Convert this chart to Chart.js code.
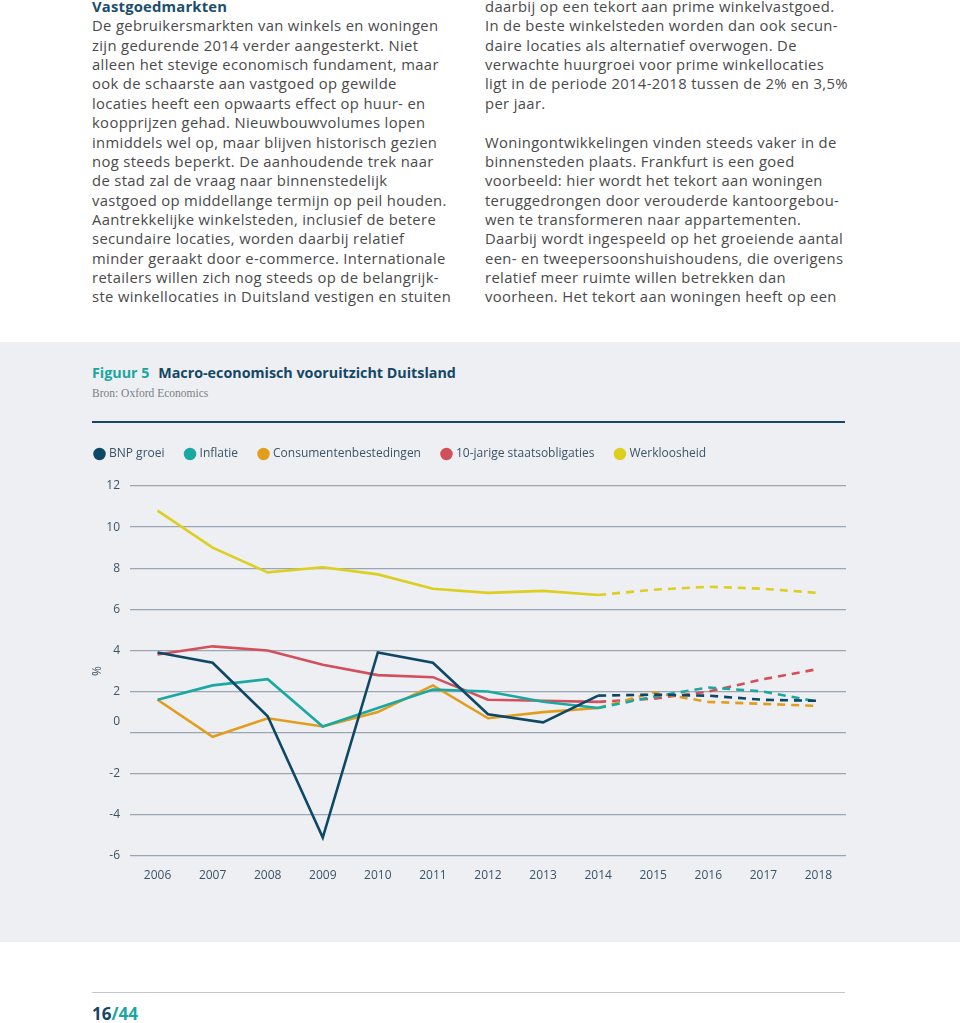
<!DOCTYPE html>
<html lang="nl">
<head>
    <meta charset="UTF-8">
    <title>Macro-economisch vooruitzicht Duitsland</title>
    <style>
        body {
            margin: 0;
            width: 960px;
            height: 1023px;
            position: relative;
            overflow: hidden;
            background: #fff;
            font-family: "Open Sans", Arial, sans-serif;
            color: #4a4a4a;
        }

        .col {
            position: absolute;
            top: -3px;
            font-size: 14.8px;
            letter-spacing: 0.35px;
            line-height: 19.36px;
            white-space: nowrap;
        }

        .col h3 {
            margin: 0;
            font-size: 14.8px;
            font-weight: 700;
            letter-spacing: 0.2px;
            color: #1b4e6d;
        }

        #panel {
            position: absolute;
            left: 0;
            top: 342px;
            width: 960px;
            height: 600px;
            background: #eeeff3;
        }

        #title {
            position: absolute;
            left: 92px;
            top: 363px;
            font-size: 14.3px;
            font-weight: 700;
            color: #154766;
        }

        #title span {
            color: #1aa6a0;
            margin-right: 5px;
        }

        #source {
            position: absolute;
            left: 92px;
            top: 387px;
            font-family: "Liberation Serif", "DejaVu Serif", serif;
            font-size: 11.5px;
            color: #7a7f86;
        }

        #rule {
            position: absolute;
            left: 92px;
            top: 421px;
            width: 753px;
            height: 2px;
            background: #154766;
        }

        #chart-box {
            position: absolute;
            left: 74px;
            top: 426px;
            width: 772px;
            height: 457px;
        }

        #footer-line {
            position: absolute;
            left: 92px;
            top: 992px;
            width: 753px;
            height: 1px;
            background: #c4c6ca;
        }

        #page {
            position: absolute;
            left: 92px;
            top: 1002px;
            font-size: 17px;
            font-weight: 700;
            color: #154766;
        }

        #page span {
            color: #1aa6a0;
        }
    </style>
</head>
<body>
    <div class="col" style="left: 92px;">
        <h3>Vastgoedmarkten</h3>
        De gebruikersmarkten van winkels en woningen<br>
        zijn gedurende 2014 verder aangesterkt. Niet<br>
        alleen het stevige economisch fundament, maar<br>
        ook de schaarste aan vastgoed op gewilde<br>
        locaties heeft een opwaarts effect op huur- en<br>
        koopprijzen gehad. Nieuwbouwvolumes lopen<br>
        inmiddels wel op, maar blijven historisch gezien<br>
        nog steeds beperkt. De aanhoudende trek naar<br>
        de stad zal de vraag naar binnenstedelijk<br>
        vastgoed op middellange termijn op peil houden.<br>
        Aantrekkelijke winkelsteden, inclusief de betere<br>
        secundaire locaties, worden daarbij relatief<br>
        minder geraakt door e-commerce. Internationale<br>
        retailers willen zich nog steeds op de belangrijk-<br>
        ste winkellocaties in Duitsland vestigen en stuiten
    </div>

    <div class="col" style="left: 485px;">
        daarbij op een tekort aan prime winkelvastgoed.<br>
        In de beste winkelsteden worden dan ook secun-<br>
        daire locaties als alternatief overwogen. De<br>
        verwachte huurgroei voor prime winkellocaties<br>
        ligt in de periode 2014-2018 tussen de 2% en 3,5%<br>
        per jaar.<br>
        <br>
        Woningontwikkelingen vinden steeds vaker in de<br>
        binnensteden plaats. Frankfurt is een goed<br>
        voorbeeld: hier wordt het tekort aan woningen<br>
        teruggedrongen door verouderde kantoorgebou-<br>
        wen te transformeren naar appartementen.<br>
        Daarbij wordt ingespeeld op het groeiende aantal<br>
        een- en tweepersoonshuishoudens, die overigens<br>
        relatief meer ruimte willen betrekken dan<br>
        voorheen. Het tekort aan woningen heeft op een
    </div>

    <div id="panel"></div>
    <div id="title"><span>Figuur 5</span> Macro-economisch vooruitzicht Duitsland</div>
    <div id="source">Bron: Oxford Economics</div>
    <div id="rule"></div>

    <div id="chart-box">
        <canvas id="macro-chart"></canvas>
    </div>

    <div id="footer-line"></div>
    <div id="page">16<span>/44</span></div>

    <script src="https://cdn.jsdelivr.net/npm/chart.js"></script>
    <script>
        const years = ['2006', '2007', '2008', '2009', '2010', '2011', '2012',
                       '2013', '2014', '2015', '2016', '2017', '2018'];

        // 2015-2018 are forecasts (drawn dashed)
        const bnpGroei = [3.9, 3.4, 0.8, -5.1, 3.9, 3.4, 0.9, 0.5, 1.8, 1.85, 1.8, 1.6, 1.55];
        const inflatie = [1.6, 2.3, 2.6, 0.3, 1.2, 2.1, 2.0, 1.5, 1.2, 1.75, 2.2, 2.0, 1.5];
        const consumentenbestedingen = [1.6, -0.2, 0.7, 0.3, 1.0, 2.3, 0.7, 1.0, 1.2, 1.95, 1.5, 1.4, 1.3];
        const staatsobligaties = [3.8, 4.2, 4.0, 3.3, 2.8, 2.7, 1.6, 1.55, 1.5, 1.65, 2.0, 2.6, 3.1];
        const werkloosheid = [10.8, 9.0, 7.8, 8.05, 7.7, 7.0, 6.8, 6.9, 6.7, 6.95, 7.1, 7.0, 6.8];

        const yTicks = [12, 10, 8, 6, 4, 2, 0, -2, -4, -6];
        const forecastFrom = years.indexOf('2014');

        const textColor = '#3b5366';
        const tickFont = { family: 'Open Sans', size: 12 };

        function series(label, data, color) {
            return {
                label: label,
                data: data,
                borderColor: color,
                backgroundColor: color,
                borderWidth: 2.6,
                pointRadius: 0,
                tension: 0,
                segment: {
                    borderDash: ctx => ctx.p0DataIndex >= forecastFrom ? [8, 6] : undefined
                }
            };
        }

        // fixed legend height so the plot starts where it does in the original
        const legendHeight = {
            id: 'legendHeight',
            beforeLayout(chart) {
                const legend = chart.legend;
                if (!legend || legend.patched) return;
                const fit = legend.fit;
                legend.fit = function () {
                    fit.call(this);
                    this.height = 60;
                };
                legend.patched = true;
            }
        };

        // the "0" label sits a bit above its grid line in the original
        const zeroLabel = {
            id: 'zeroLabel',
            afterDraw(chart) {
                const y = chart.scales.y;
                const ctx = chart.ctx;
                ctx.save();
                ctx.font = '12px "Open Sans"';
                ctx.fillStyle = textColor;
                ctx.textAlign = 'right';
                ctx.textBaseline = 'middle';
                ctx.fillText('0', y.right - 10, y.getPixelForValue(0) - 11);
                ctx.restore();
            }
        };

        const chart = new Chart(document.getElementById('macro-chart'), {
            type: 'line',
            data: {
                labels: years,
                datasets: [
                    series('BNP groei', bnpGroei, '#0e4866'),
                    series('Inflatie', inflatie, '#1aa8a2'),
                    series('Consumentenbestedingen', consumentenbestedingen, '#e29d1d'),
                    series('10-jarige staatsobligaties', staatsobligaties, '#d1505c'),
                    series('Werkloosheid', werkloosheid, '#dccf1f')
                ]
            },
            options: {
                responsive: true,
                maintainAspectRatio: false,
                animation: false,
                layout: { padding: 0 },
                plugins: {
                    legend: {
                        position: 'top',
                        align: 'start',
                        labels: {
                            usePointStyle: true,
                            pointStyle: 'circle',
                            boxWidth: 7,
                            boxHeight: 7,
                            padding: 22,
                            color: textColor,
                            font: { family: 'Open Sans', size: 12 }
                        }
                    },
                    tooltip: { enabled: false }
                },
                scales: {
                    x: {
                        offset: true,
                        afterFit: scale => { scale.height = 27; },
                        grid: { display: false, drawTicks: false },
                        border: { display: false },
                        ticks: { color: textColor, font: tickFont, padding: 12, maxRotation: 0 }
                    },
                    y: {
                        min: -6,
                        max: 12,
                        afterFit: scale => { scale.width = 56; },
                        afterBuildTicks: scale => {
                            scale.ticks = yTicks.map(v => ({ value: v }));
                        },
                        grid: { color: '#9aa6b2', lineWidth: 1.3, drawTicks: false },
                        border: { display: false },
                        ticks: {
                            color: textColor,
                            font: tickFont,
                            padding: 10,
                            callback: v => v === 0 ? '' : v
                        },
                        title: {
                            display: true,
                            text: '%',
                            color: textColor,
                            font: { family: 'Open Sans', size: 12 },
                            padding: { top: 16, bottom: 0 }
                        }
                    }
                }
            },
            plugins: [zeroLabel, legendHeight]
        });
    </script>
</body>
</html>
